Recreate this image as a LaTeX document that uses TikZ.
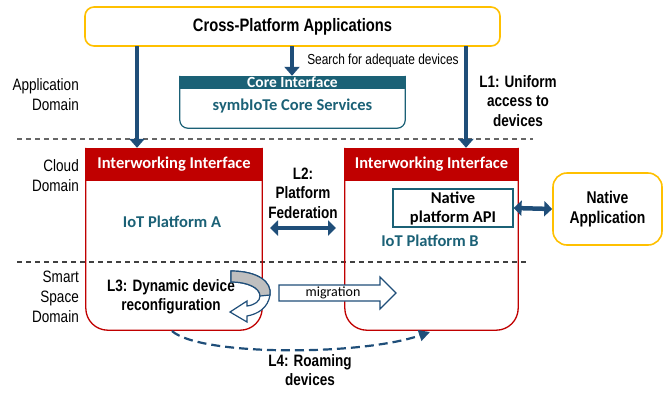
\documentclass[tikz,border=0pt]{standalone}
\usepackage{fontspec}
\setmainfont{Liberation Sans}
\newfontfamily\narrowfont[FakeStretch=0.82]{Liberation Sans}
\newfontfamily\califont{Carlito}
\usetikzlibrary{arrows.meta, positioning, calc}

\definecolor{arrowblue}{HTML}{1F4E79}
\definecolor{coreteal}{HTML}{1B6176}
\definecolor{platred}{HTML}{C00000}
\definecolor{appyellow}{HTML}{FFC000}

\tikzset{
  domainlbl/.style={font=\narrowfont\fontsize{16.5}{20}\selectfont, align=right, anchor=east},
  linklabel/.style={font=\narrowfont\bfseries\fontsize{16.5}{19.5}\selectfont, align=center},
  appbox/.style={draw=appyellow, line width=1.6pt, rounded corners=9pt, fill=white,
    font=\narrowfont\bfseries\fontsize{18}{20}\selectfont, align=center},
  ifhead/.style={fill=platred, text=white, minimum width=176pt, minimum height=33pt,
    font=\califont\bfseries\fontsize{16.5}{18}\selectfont},
  platname/.style={text=coreteal, font=\califont\bfseries\fontsize{16.5}{18}\selectfont},
  bigarrow/.style={draw=arrowblue, line width=4.5pt, -{Triangle[length=9pt,width=15pt]}},
  dblarrow/.style={draw=arrowblue, line width=4.5pt, {Triangle[length=8pt,width=15pt]}-{Triangle[length=8pt,width=15pt]}},
  domainline/.style={draw=black!75, line width=1.1pt, dash pattern=on 5pt off 4pt}
}

\begin{document}
\begin{tikzpicture}[x=1pt,y=-1pt, every node/.style={inner sep=0pt}]
\useasboundingbox (0,0) rectangle (670,400);

% domain separators
\draw[domainline, draw=black!60] (17,139) -- (533,139);
\draw[domainline] (17,262) -- (527,262);

\node[domainlbl] (appdom) at (79,95) {Application\\Domain};
\node[domainlbl] (clouddom) at (79,176) {Cloud\\Domain};
\node[domainlbl] (smartdom) at (79,297) {Smart\\Space\\Domain};

% applications on top
\node[appbox, minimum width=415pt, minimum height=39pt] (cpa) at (292.5,26.5) {Cross-Platform Applications};

% core
\node[minimum width=225pt, minimum height=52pt] (core) at (292.5,102) {};
\draw[coreteal, line width=1.2pt, rounded corners=8pt] (core.north west) -- (core.south west) -- (core.south east) -- (core.north east);
\node[fill=coreteal, text=white, minimum width=225pt, minimum height=13pt, anchor=north,
  font=\califont\bfseries\fontsize{15.5}{14}\selectfont] (coreif) at (core.north) {Core Interface};
\node[platname] (coresrv) at (292.5,106) {symbIoTe Core Services};

\coordinate (search) at (292,46);
\draw[bigarrow] (search) -- (core.north -| search) node[pos=0.5, right=13pt, font=\narrowfont\fontsize{14.5}{16}\selectfont] (searchlbl) {Search for adequate devices};

% platforms
\node[minimum width=176pt, minimum height=182pt] (pa) at (174,239) {};
\node[minimum width=173pt, minimum height=182pt] (pb) at (431.5,239) {};
\foreach \p in {pa,pb}
  \draw[platred, line width=1.3pt, rounded corners=22pt] (\p.north west) -- (\p.south west) -- (\p.south east) -- (\p.north east);
\node[ifhead, anchor=north] (ifa) at (pa.north) {Interworking Interface};
\node[ifhead, anchor=north, minimum width=173pt] (ifb) at (pb.north) {Interworking Interface};
\node[platname] (iota) at (172,222) {IoT Platform A};
\node[platname] (iotb) at (430,241) {IoT Platform B};

\node[draw=coreteal, line width=1.2pt, minimum width=120pt, minimum height=38pt, align=center,
  font=\califont\bfseries\fontsize{16.5}{19}\selectfont] (napi) at (453,208) {Native\\platform API};
\node[appbox, minimum width=109pt, minimum height=72pt, rounded corners=14pt,
  font=\narrowfont\bfseries\fontsize{17}{20}\selectfont] (napp) at (607.5,209) {Native\\Application};

% L1 access
\coordinate (l1a) at (137,46);
\coordinate (l1b) at (466,46);
\draw[bigarrow] (l1a) -- (l1a |- ifa.north);
\draw[bigarrow] (l1b) -- (l1b |- ifb.north);
\node[linklabel] (l1) at (518,101) {L1: Uniform\\access to\\devices};

% L2 federation
\node[linklabel] (l2) at (303,193) {L2:\\Platform\\Federation};
\draw[dblarrow] (270,228) -- (336,228);
\draw[dblarrow] (napi.east) -- (napp.west);

% L3 reconfiguration
\node[linklabel] (l3) at (171,297) {L3: Dynamic device\\reconfiguration};
\draw[arrowblue, line width=1.2pt, fill=white]
  (231,271) .. controls (258,271) and (272,282) .. (270,295)
  .. controls (268,308) and (258,314) .. (247,316) -- (247,322) -- (230,312) -- (247,301) -- (247,306)
  .. controls (255,305) and (260,301) .. (260,296)
  .. controls (260,288) and (248,282) .. (231,282) -- cycle;
\fill[black!25, draw=arrowblue, line width=1.2pt]
  (231,271) .. controls (258,271) and (272,282) .. (270,295) -- (260,296)
  .. controls (260,288) and (248,282) .. (231,282) -- cycle;

% migration
\draw[arrowblue, line width=1.2pt, fill=white]
  (279,285) -- (380,285) -- (380,277) -- (396,293) -- (380,309) -- (380,301) -- (279,301) -- cycle;
\node[font=\califont\fontsize{14}{16}\selectfont] (mig) at (333,293) {migration};

% L4 roaming
\coordinate (roamstart) at (172,331);
\coordinate (roamend) at (430,332);
\draw[arrowblue, line width=2.2pt, dash pattern=on 9pt off 5pt, -{Triangle[length=11pt,width=11pt]}]
  (roamstart) .. controls (200,356) and (360,356) .. (roamend);
\node[linklabel] (l4) at (310,370) {L4: Roaming\\devices};
\end{tikzpicture}
\end{document}
